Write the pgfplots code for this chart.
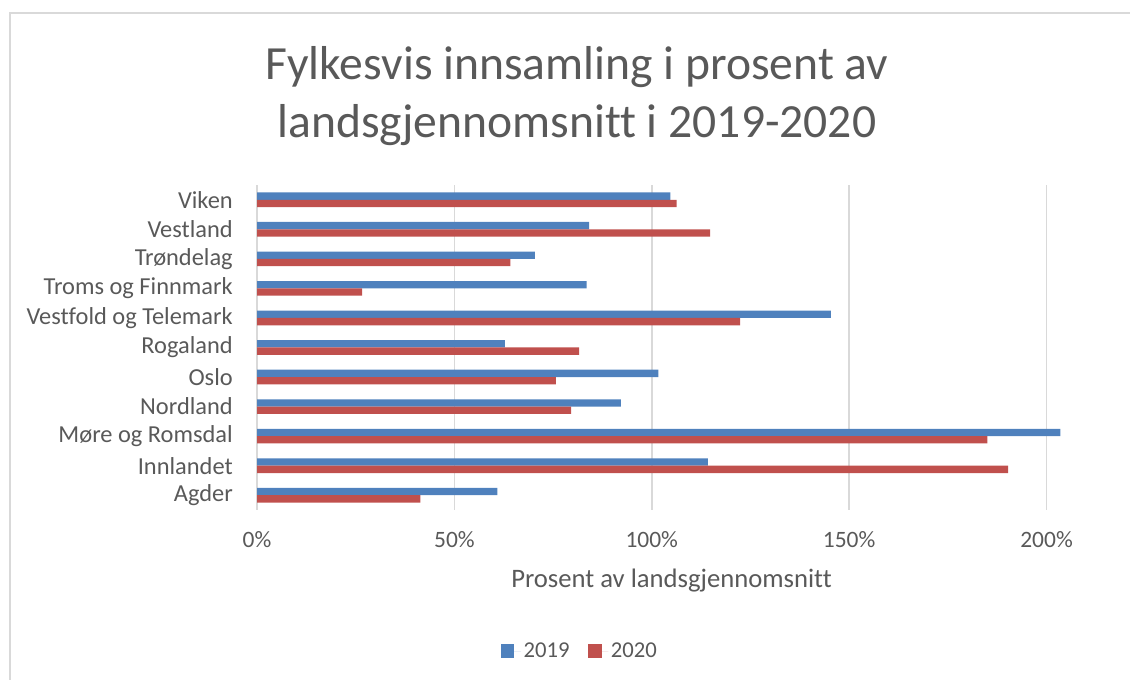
\documentclass[border=0pt]{standalone}
\usepackage{pgfplots}
\pgfplotsset{compat=1.18}
\usepackage{fontspec}
\setmainfont{Carlito}[Ligatures=NoCommon]
\definecolor{txt}{HTML}{595959}
\definecolor{gridc}{HTML}{D9D9D9}
\definecolor{c2019}{HTML}{4F81BD}
\definecolor{c2020}{HTML}{C0504D}
\begin{document}
\begin{tikzpicture}
\begin{scope}[x=0.75pt,y=0.75pt]
\useasboundingbox (0,0) rectangle (1130,680);
\draw[gridc, line width=1.2pt] (10,0) -- (10,667) -- (1130,667);
\node[anchor=base, text=txt, inner sep=0pt, font=\fontsize{35.7}{43}\selectfont] at (577,600) {Fylkesvis innsamling i prosent av};
\node[anchor=base, text=txt, inner sep=0pt, font=\fontsize{35.7}{43}\selectfont] at (577,542) {landsgjennomsnitt i 2019-2020};
\end{scope}
\begin{axis}[
  at={(192.75pt,127.5pt)}, anchor=south west,
  scale only axis, width=621.75pt, height=243.75pt,
  xbar, bar width=5.5pt,
  xmin=0, xmax=210, ymin=-0.5, ymax=10.5,
  axis line style={draw=none},
  xtick={0,50,100,150,200},
  xticklabels={0\%,50\%,100\%,150\%,200\%},
  major tick length=0pt,
  xmajorgrids, grid style={gridc, line width=1.1pt},
  ytick={0,...,10},
  yticklabels={Agder,Innlandet,Møre og Romsdal,Nordland,Oslo,Rogaland,Vestfold og Telemark,Troms og Finnmark,Trøndelag,Vestland,Viken},
  yticklabel style={anchor=east, inner sep=0pt, xshift=-18pt, text=txt, font=\fontsize{18.3}{21}\selectfont},
  xticklabel style={anchor=base, inner sep=0pt, yshift=-28.5pt, text=txt, font=\fontsize{17.6}{20}\selectfont},
  xlabel={Prosent av landsgjennomsnitt},
  xlabel style={at={(axis description cs:0.5,0)}, anchor=base, inner sep=0pt, yshift=-58.5pt, text=txt, font=\fontsize{20}{23}\selectfont},
  legend style={at={(axis description cs:0.39,-0.434)}, anchor=center, draw=none, fill=none, text=txt, font=\fontsize{17}{20}\selectfont,
    /tikz/every even column/.append style={column sep=12pt}},
  legend columns=2,
  legend image code/.code={\path (0pt,0pt) -- (15pt,0pt); \fill[#1] (0pt,-5pt) rectangle (10pt,5pt);},
]
\addplot[fill=c2019, draw=none, bar shift=2.75pt] coordinates {
  (60.9,0) (114.2,1) (203.5,2) (92.2,3) (101.7,4) (62.8,5) (145.4,6) (83.5,7) (70.4,8) (84.1,9) (104.7,10)};
\addplot[fill=c2020, draw=none, bar shift=-2.75pt] coordinates {
  (41.4,0) (190.3,1) (185.0,2) (79.6,3) (75.7,4) (81.6,5) (122.4,6) (26.6,7) (64.2,8) (114.8,9) (106.3,10)};
\legend{2019,2020}
\end{axis}
\end{tikzpicture}
\end{document}
